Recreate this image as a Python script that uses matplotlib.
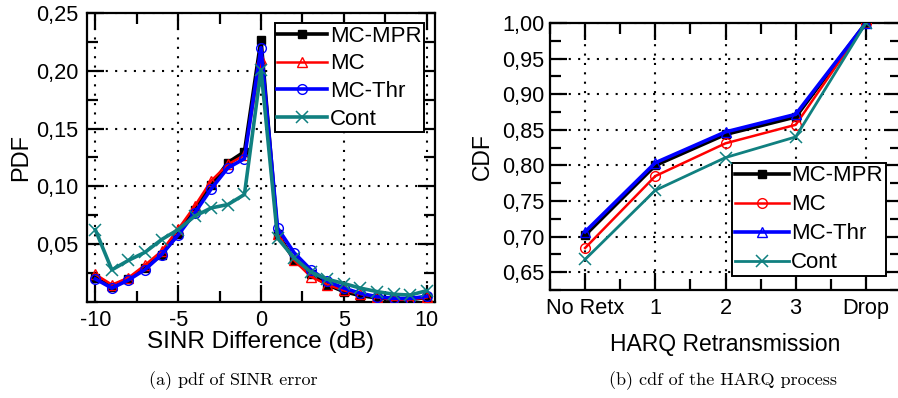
import matplotlib
matplotlib.use("Agg")
import matplotlib.pyplot as plt
from matplotlib.ticker import MultipleLocator, FuncFormatter, FixedLocator

# ---------------- data ----------------
sinr_x = list(range(-10, 11))
pdf_mc_mpr = [0.0206, 0.0133, 0.0203, 0.029, 0.041, 0.059, 0.080, 0.101, 0.1206, 0.130, 0.227,
              0.059, 0.0365, 0.024, 0.015, 0.009, 0.0055, 0.0035, 0.002, 0.002, 0.004]
pdf_mc = [0.024, 0.015, 0.021, 0.032, 0.044, 0.063, 0.083, 0.105, 0.119, 0.127, 0.210,
          0.059, 0.036, 0.022, 0.015, 0.010, 0.007, 0.004, 0.002, 0.002, 0.004]
pdf_mc_thr = [0.020, 0.012, 0.019, 0.028, 0.041, 0.058, 0.077, 0.098, 0.116, 0.124, 0.220,
              0.064, 0.0426, 0.028, 0.018, 0.012, 0.0075, 0.0046, 0.0032, 0.003, 0.005]
pdf_cont = [0.0626, 0.0278, 0.036, 0.043, 0.054, 0.0626, 0.0742, 0.0814, 0.0843, 0.093, 0.201,
            0.0553, 0.038, 0.026, 0.0197, 0.016, 0.012, 0.009, 0.0067, 0.006, 0.0098]

harq_labels = ["No Retx", "1", "2", "3", "Drop"]
cdf_mc_mpr = [0.702, 0.800, 0.8435, 0.868, 1.0]
cdf_mc = [0.684, 0.785, 0.831, 0.857, 1.0]
cdf_mc_thr = [0.7067, 0.8037, 0.847, 0.8717, 1.0]
cdf_cont = [0.668, 0.765, 0.811, 0.840, 1.0]

series_names = ["MC-MPR", "MC", "MC-Thr", "Cont"]

# ---------------- style ----------------
plt.rcParams['font.family'] = ['Liberation Sans', 'DejaVu Sans']
TFS = 15.7   # tick labels
LFS = 16     # legend
BLACK = "#000000"
RED = "#ff0000"
BLUE = "#0000ff"
TEAL = "#108080"

fig = plt.figure(figsize=(8.98, 3.98), dpi=100)
W, H = 898.0, 398.0

def axes_px(x0, y0, x1, y1):
    return fig.add_axes([x0 / W, 1 - y1 / H, (x1 - x0) / W, (y1 - y0) / H])

comma_fmt = FuncFormatter(lambda v, p: ("%.2f" % v).replace(".", ","))

def style_axes(ax):
    for s in ax.spines.values():
        s.set_linewidth(1.6)
    ax.tick_params(which='both', direction='in', top=True, right=True,
                   width=1.6, labelsize=TFS, colors='black')
    ax.tick_params(which='major', length=12)
    ax.tick_params(which='minor', length=8)
    ax.grid(True, which='major', color='black', linestyle=(0, (1, 3.5)), linewidth=1.5)

def make_legend(ax, spacing, hlen, **kw):
    leg = ax.legend(fontsize=LFS, frameon=True, fancybox=False, framealpha=1,
                    edgecolor='black', borderpad=0.12, labelspacing=spacing,
                    handlelength=hlen, handletextpad=0.1, borderaxespad=0, **kw)
    leg.get_frame().set_linewidth(1.4)
    return leg

# ---------------- left: PDF ----------------
ax1 = axes_px(87, 13, 435, 302)
ax1.plot(sinr_x, pdf_mc_mpr, color=BLACK, lw=2.6, marker='s', ms=6, mfc=BLACK, mec=BLACK,
         label=series_names[0], zorder=3)
ax1.plot(sinr_x, pdf_mc, color=RED, lw=1.8, marker='^', ms=7, mfc='none', mec=RED,
         label=series_names[1], zorder=4)
ax1.plot(sinr_x, pdf_mc_thr, color=BLUE, lw=2.6, marker='o', ms=7, mfc='none', mec=BLUE,
         label=series_names[2], zorder=5)
ax1.plot(sinr_x, pdf_cont, color=TEAL, lw=2.6, marker='x', ms=9, mew=1.1, mec=TEAL,
         label=series_names[3], zorder=6)
ax1.set_xlim(-10.5, 10.5)
ax1.set_ylim(0, 0.25)
ax1.xaxis.set_major_locator(MultipleLocator(5))
ax1.xaxis.set_minor_locator(MultipleLocator(2.5))
ax1.yaxis.set_major_locator(FixedLocator([0.05, 0.10, 0.15, 0.20, 0.25]))
ax1.yaxis.set_minor_locator(MultipleLocator(0.025))
ax1.yaxis.set_major_formatter(comma_fmt)
ax1.xaxis.set_major_formatter(FuncFormatter(lambda v, p: "%d" % v))
style_axes(ax1)
ax1.tick_params(axis='x', which='major', pad=6)
ax1.tick_params(axis='y', which='major', pad=6)
ax1.set_xlabel("SINR Difference (dB)", fontsize=17.5, labelpad=0)
ax1.set_ylabel("PDF", fontsize=17, labelpad=3)
make_legend(ax1, 0.3, 2.25, loc='upper right', bbox_to_anchor=(1 - 11 / 348, 1 - 10 / 289))

# ---------------- right: CDF ----------------
ax2 = axes_px(550, 23, 901, 290)
hx = list(range(len(harq_labels)))
ax2.plot(hx, cdf_mc_mpr, color=BLACK, lw=2.6, marker='s', ms=6, mfc=BLACK, mec=BLACK,
         label=series_names[0], zorder=3)
ax2.plot(hx, cdf_mc, color=RED, lw=1.8, marker='o', ms=7, mfc='none', mec=RED,
         label=series_names[1], zorder=4)
ax2.plot(hx, cdf_mc_thr, color=BLUE, lw=2.6, marker='^', ms=7, mfc='none', mec=BLUE,
         label=series_names[2], zorder=5)
ax2.plot(hx, cdf_cont, color=TEAL, lw=2.0, marker='x', ms=9, mew=1.1, mec=TEAL,
         label=series_names[3], zorder=6)
ax2.set_xlim(-0.5, 4.5)
ax2.set_ylim(0.625, 1.0)
ax2.xaxis.set_major_locator(FixedLocator(hx))
ax2.xaxis.set_minor_locator(MultipleLocator(0.5))
ax2.set_xticklabels(harq_labels)
ax2.yaxis.set_major_locator(FixedLocator([0.65, 0.70, 0.75, 0.80, 0.85, 0.90, 0.95, 1.00]))
ax2.yaxis.set_minor_locator(MultipleLocator(0.025))
ax2.yaxis.set_major_formatter(comma_fmt)
style_axes(ax2)
ax2.tick_params(axis='x', which='major', pad=6)
ax2.tick_params(axis='y', which='major', pad=4)
ax2.set_xlabel("HARQ Retransmission", fontsize=16.5, labelpad=10)
ax2.set_ylabel("CDF", fontsize=16.5, labelpad=6)
make_legend(ax2, 0.36, 2.45, loc='lower left', bbox_to_anchor=(182 / 351, 14 / 267))

# ---------------- captions ----------------
fig.text(233 / W, 1 - 381 / H, "(a) pdf of SINR error", family=['cmr10', 'DejaVu Serif'],
         fontsize=13, ha='center', va='center')
fig.text(723 / W, 1 - 381 / H, "(b) cdf of the HARQ process", family=['cmr10', 'DejaVu Serif'],
         fontsize=13, ha='center', va='center')

fig.savefig("out.png", dpi=100)
